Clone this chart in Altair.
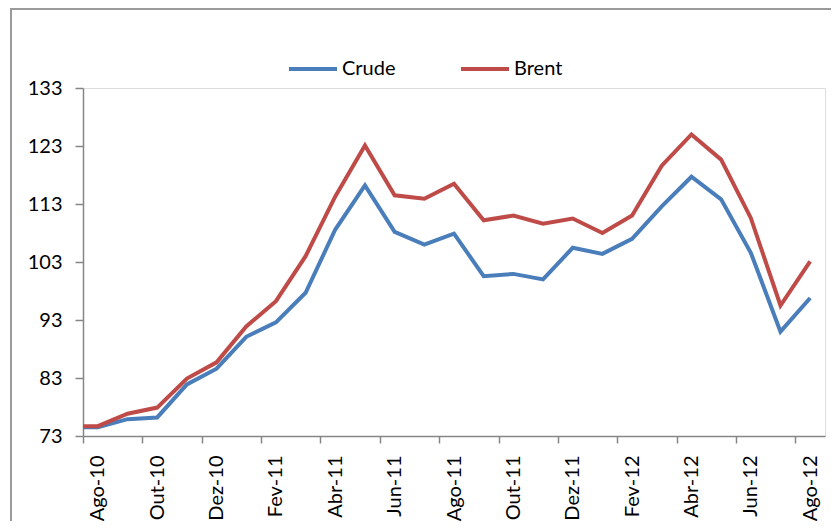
import altair as alt
import pandas as pd

# Months (first entry is the partial month that runs into the left axis)
months = ['Jul-10', 'Ago-10', 'Set-10', 'Out-10', 'Nov-10', 'Dez-10', 'Jan-11', 'Fev-11',
          'Mar-11', 'Abr-11', 'Mai-11', 'Jun-11', 'Jul-11', 'Ago-11', 'Set-11', 'Out-11',
          'Nov-11', 'Dez-11', 'Jan-12', 'Fev-12', 'Mar-12', 'Abr-12', 'Mai-12', 'Jun-12',
          'Jul-12', 'Ago-12']
crude = [74.5, 74.5, 75.9, 76.2, 81.9, 84.6, 90.1, 92.6, 97.7, 108.6, 116.2, 108.2, 106.0,
         107.9, 100.55, 100.95, 100.0, 105.45, 104.4, 107.0, 112.6, 117.7, 113.8, 104.6,
         91.0, 96.8]
brent = [74.7, 74.7, 76.85, 77.9, 82.9, 85.7, 91.9, 96.25, 104.0, 114.3, 123.1, 114.5, 113.9,
         116.5, 110.2, 111.0, 109.6, 110.5, 108.0, 111.0, 119.6, 125.0, 120.65, 110.6,
         95.5, 103.1]
series_names = ['Crude', 'Brent']
series_colors = ['#4A7EBB', '#BE4B48']
y_ticks = [73, 83, 93, 103, 113, 123, 133]

idx = list(range(-1, len(months) - 1))  # Ago-10 -> 0
rows = []
for i, m, c, b in zip(idx, months, crude, brent):
    rows.append({'i': i, 'mes': m, 'serie': 'Crude', 'valor': c})
    rows.append({'i': i, 'mes': m, 'serie': 'Brent', 'valor': b})
df = pd.DataFrame(rows)

n = len(months) - 1  # 25 labeled categories
label_vals = list(range(0, n, 2))
tick_vals = [v - 0.5 for v in range(0, n, 2)]
label_arr = "[" + ",".join("'" + m + "'" for m in months[1:]) + "]"

FONT = 'Lato'
AX = '#868686'

xscale = alt.Scale(domain=[-0.5, n - 0.5], nice=False, zero=False)
yscale = alt.Scale(domain=[73, 133], nice=False, zero=False)
yaxis = alt.Axis(values=y_ticks, grid=False, tickSize=8, tickColor=AX,
                 domainColor=AX, domainWidth=1.5, tickWidth=1.5,
                 labelFont=FONT, labelFontSize=20, labelColor='black',
                 labelPadding=13)

lines = alt.Chart(df).mark_line(strokeWidth=4, clip=True).encode(
    x=alt.X('i:Q', scale=xscale, title=None,
            axis=alt.Axis(values=tick_vals, labels=False, ticks=True, tickSize=7,
                          tickColor=AX, domainColor=AX, domainWidth=1.5, tickWidth=1.5,
                          grid=False, orient='bottom')),
    y=alt.Y('valor:Q', scale=yscale, title=None, axis=yaxis),
    color=alt.Color('serie:N', sort=series_names,
                    scale=alt.Scale(domain=series_names, range=series_colors),
                    legend=alt.Legend(title=None, orient='none', direction='horizontal',
                                      legendX=204, legendY=-45, symbolType='stroke',
                                      symbolSize=2304, symbolStrokeWidth=4,
                                      labelFont=FONT, labelFontSize=20, labelColor='black',
                                      labelOffset=3, columnPadding=57)),
    detail='serie:N'
)

labels_layer = alt.Chart(df).mark_line(opacity=0).encode(
    x=alt.X('i:Q', scale=xscale, title=None,
            axis=alt.Axis(values=label_vals, ticks=False, domain=False, grid=False,
                          labelExpr=label_arr + "[datum.value]", labelAngle=-90,
                          labelFont=FONT, labelFontSize=20, labelColor='black',
                          labelPadding=19, orient='bottom')),
    y=alt.Y('valor:Q', scale=yscale, title=None, axis=yaxis),
    detail='serie:N'
)

frame = alt.Chart(pd.DataFrame({'a': [0]})).mark_rect(
    fill=None, stroke='#9A9A9A', strokeWidth=2, clip=False
).encode(x=alt.value(-72), x2=alt.value(800), y=alt.value(-79), y2=alt.value(520))

chart = alt.layer(frame, lines, labels_layer).resolve_axis(x='independent').properties(
    width=742, height=348,
    autosize=alt.AutoSizeParams(type='none'),
    padding={'left': 75, 'top': 80, 'right': 6, 'bottom': 85},
).configure_view(fill='#FCFAF9', strokeWidth=0).configure(background='white')

chart.save("out.html", embed_options={"renderer": "svg", "actions": False})
